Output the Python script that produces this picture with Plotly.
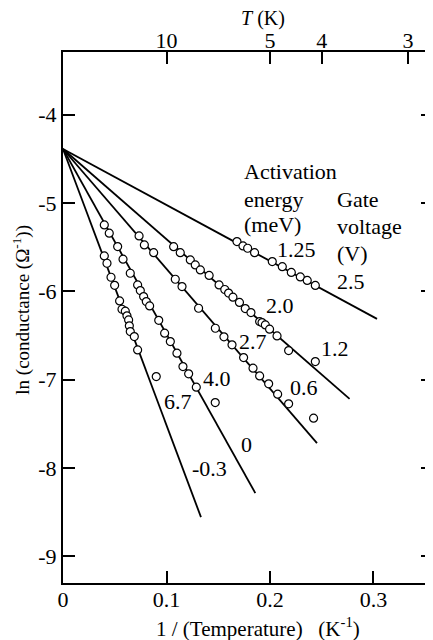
import plotly.graph_objects as go

# ---- data ----
intercept = -4.39
energy_labels = ["1.25", "2.0", "2.7", "4.0", "6.7"]
gate_labels = ["2.5", "1.2", "0.6", "0", "-0.3"]
line_x_end = [0.3034, 0.2769, 0.2454, 0.1858, 0.1333]
line_y_end = [-6.312, -7.217, -7.718, -8.283, -8.555]

s1_x = [0.1681, 0.1739, 0.1784, 0.1851, 0.2022, 0.2119, 0.2206, 0.2293, 0.2360, 0.2438]
s1_y = [-5.438, -5.487, -5.513, -5.563, -5.664, -5.721, -5.787, -5.837, -5.877, -5.934]

s2_x = [0.1069, 0.1133, 0.1230, 0.1278, 0.1327, 0.1412, 0.1508, 0.1563, 0.1600, 0.1642,
        0.1705, 0.1761, 0.1816, 0.1900, 0.1923, 0.1955, 0.1996, 0.2068, 0.2180, 0.2438]
s2_y = [-5.495, -5.563, -5.645, -5.702, -5.758, -5.820, -5.928, -5.980, -6.020, -6.067,
        -6.126, -6.195, -6.241, -6.343, -6.354, -6.380, -6.429, -6.505, -6.671, -6.795]

s3_x = [0.0735, 0.0786, 0.0876, 0.1085, 0.1150, 0.1310, 0.1472, 0.1555, 0.1633, 0.1745,
        0.1836, 0.1900, 0.1987, 0.2074, 0.2180, 0.2421]
s3_y = [-5.374, -5.475, -5.563, -5.864, -5.947, -6.192, -6.418, -6.515, -6.606, -6.750,
        -6.870, -6.957, -7.047, -7.164, -7.273, -7.435]

s4_x = [0.0399, 0.0447, 0.0528, 0.0580, 0.0650, 0.0721, 0.0747, 0.0779, 0.0805, 0.0837,
        0.0925, 0.0982, 0.1037, 0.1101, 0.1159, 0.1214, 0.1288, 0.1471]
s4_y = [-5.249, -5.343, -5.494, -5.637, -5.796, -5.928, -5.992, -6.060, -6.116, -6.165,
        -6.328, -6.474, -6.569, -6.700, -6.852, -6.934, -7.085, -7.259]

s5_x = [0.0399, 0.0425, 0.0464, 0.0499, 0.0547, 0.0570, 0.0602, 0.0618, 0.0634, 0.0641,
        0.0650, 0.0689, 0.0721, 0.0901]
s5_y = [-5.600, -5.683, -5.841, -5.932, -6.109, -6.203, -6.225, -6.278, -6.324, -6.391,
        -6.456, -6.512, -6.663, -6.965]

series_x = [s1_x, s2_x, s3_x, s4_x, s5_x]
series_y = [s1_y, s2_y, s3_y, s4_y, s5_y]

# label positions (data coords)
energy_pos = [(0.2051, -5.532), (0.1938, -6.165), (0.1681, -6.569), (0.1333, -6.983), (0.0957, -7.247)]
gate_pos = [(0.2631, -5.890), (0.2470, -6.644), (0.2170, -7.085), (0.1697, -7.737), (0.1223, -8.001)]

bottom_ticks = [0, 0.1, 0.2, 0.3]
top_T = [10, 5, 4, 3]
y_ticks = [-4, -5, -6, -7, -8, -9]

FONT = "Liberation Serif, Times New Roman, serif"
X_RANGE = [0, 0.3575]
Y_RANGE = [-9.30, -3.293]

fig = go.Figure()
for xe, ye in zip(line_x_end, line_y_end):
    fig.add_trace(go.Scatter(x=[0, xe], y=[intercept, ye], mode="lines",
                             line=dict(color="black", width=1.8), showlegend=False,
                             hoverinfo="skip"))
for xs, ys in zip(series_x, series_y):
    fig.add_trace(go.Scatter(x=xs, y=ys, mode="markers",
                             marker=dict(symbol="circle", size=8, color="white",
                                         line=dict(color="black", width=1.2)),
                             showlegend=False))
# trace bound to top axis (T scale)
fig.add_trace(go.Scatter(x=[0.1], y=[-20], xaxis="x2", yaxis="y", mode="markers",
                         marker=dict(size=1, color="rgba(0,0,0,0)"), showlegend=False,
                         hoverinfo="skip"))

lab_font = dict(size=22, family=FONT, color="black")
annotations = []
for lab, (x, y) in zip(energy_labels, energy_pos):
    annotations.append(dict(x=x, y=y, text=lab, showarrow=False, xanchor="left",
                            yanchor="middle", font=lab_font))
for lab, (x, y) in zip(gate_labels, gate_pos):
    annotations.append(dict(x=x, y=y, text=lab, showarrow=False, xanchor="left",
                            yanchor="middle", font=lab_font))
for txt, x, y in [("Activation", 0.1729, -4.647), ("energy", 0.1729, -4.967),
                  ("(meV)", 0.1729, -5.249), ("Gate", 0.2631, -4.967),
                  ("voltage", 0.2631, -5.269), ("(V)", 0.2631, -5.569)]:
    annotations.append(dict(x=x, y=y, text=txt, showarrow=False, xanchor="left",
                            yanchor="middle", font=lab_font))

annotations += [
    dict(xref="paper", yref="paper", x=0.527, y=-0.0829, text="1 / (Temperature)   (K<sup>-1</sup>)",
         showarrow=False, xanchor="center", yanchor="middle",
         font=dict(size=21, family=FONT, color="black")),
    dict(xref="paper", yref="paper", x=0.5405, y=1.064, text="<i>T</i> (K)",
         showarrow=False, xanchor="center", yanchor="middle",
         font=dict(size=20, family=FONT, color="black")),
    dict(xref="paper", yref="paper", x=-0.113, y=0.515, text="ln (conductance (Ω<sup>-1</sup>))",
         showarrow=False, xanchor="center", yanchor="middle", textangle=-90,
         font=dict(size=19, family=FONT, color="black")),
]

tick_font = dict(size=22, family=FONT, color="black")
fig.update_layout(
    width=425, height=632,
    margin=dict(l=55, r=0, t=44, b=57, autoexpand=False),
    paper_bgcolor="white", plot_bgcolor="white",
    font=dict(family=FONT, size=21, color="black"),
    annotations=annotations,
    xaxis=dict(range=X_RANGE, tickvals=bottom_ticks,
               ticktext=[str(v) for v in bottom_ticks], tickfont=tick_font,
               ticks="inside", ticklen=12, tickwidth=1.5, tickcolor="black",
               ticklabelstandoff=-4,
               showline=True, linewidth=2, linecolor="black", mirror=False,
               showgrid=False, zeroline=False, automargin=False),
    xaxis2=dict(range=X_RANGE, overlaying="x", side="top", anchor="y",
                tickvals=[1.0 / t for t in top_T], ticktext=[str(t) for t in top_T],
                tickfont=tick_font,
                ticks="inside", ticklen=12, tickwidth=1.5, tickcolor="black",
                ticklabelstandoff=-7,
                showline=True, linewidth=2, linecolor="black",
                showgrid=False, zeroline=False, automargin=False),
    yaxis=dict(range=Y_RANGE, tickvals=y_ticks, ticktext=[str(v) for v in y_ticks],
               tickfont=tick_font,
               ticks="inside", ticklen=12, tickwidth=1.5, tickcolor="black",
               showline=True, linewidth=2, linecolor="black", mirror="ticks",
               showgrid=False, zeroline=False, automargin=False),
)

fig.write_html("out.html")
